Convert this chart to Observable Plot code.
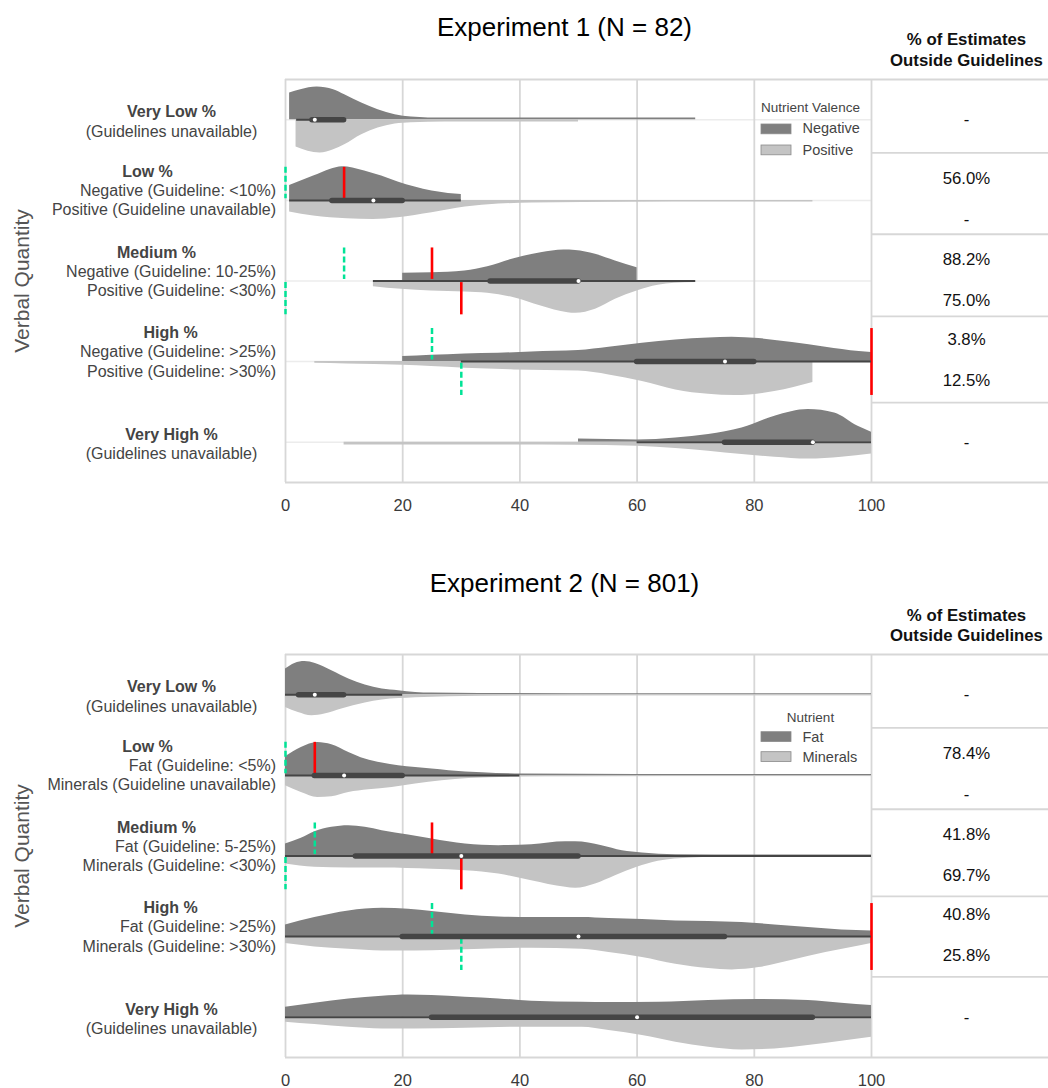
<!DOCTYPE html>
<html>
<head>
<meta charset="utf-8">
<script src="https://cdn.jsdelivr.net/npm/d3@7"></script>
<script src="https://cdn.jsdelivr.net/npm/@observablehq/plot@0.6"></script>
<style>
  body { margin: 0; background: #fff; }
  #chart svg { display: block; }
</style>
</head>
<body>
<div id="chart"></div>
<script>
// ---------------- DATA ----------------
const categories = ["Very Low %", "Low %", "Medium %", "High %", "Very High %"];
const xTicks = [0, 20, 40, 60, 80, 100];
const gridValues = [20, 40, 60, 80];
const tableHeader = ["% of Estimates", "Outside Guidelines"];
const yAxisTitle = "Verbal Quantity";

// Experiment 1
const exp1Title = "Experiment 1 (N = 82)";
const exp1LegendTitle = "Nutrient Valence";
const exp1Groups = ["Negative", "Positive"];
const exp1SubLabels = [
  ["(Guidelines unavailable)"],
  ["Negative (Guideline: <10%)", "Positive (Guideline unavailable)"],
  ["Negative (Guideline: 10-25%)", "Positive (Guideline: <30%)"],
  ["Negative (Guideline: >25%)", "Positive (Guideline: >30%)"],
  ["(Guidelines unavailable)"]
];
// density profiles: [estimate %, scaled density]
const exp1NegDensity = [
  [[0.7,26.7],[2.6,30],[5.4,32.7],[8.2,30],[10.1,25],[13,16.7],[15.8,10],[18.7,5],[21.5,2.7],[24.4,1.9],[30,1.7],[69.5,1.7],[70,1.7]],
  [[0.7,15],[4.8,24.3],[7.6,31],[9.7,33.7],[11.5,32.5],[13.5,29.3],[16.4,24.3],[19.2,18.3],[22.1,13.3],[25,9.3],[27.8,7],[30,6]],
  [[20,7.7],[24.9,8.3],[30.6,10],[34.5,14.3],[39,22.3],[43.6,28.3],[47.5,31],[49.5,30.5],[52.9,26.7],[56.3,20],[60,13.3]],
  [[20,5],[24.9,6.3],[30.6,7.7],[36.3,8.3],[42,9.7],[50,11],[55.2,14.3],[60.9,18.3],[66.6,21.7],[72.2,23.7],[76.2,24.3],[80.8,23],[86.5,19],[92.2,14.3],[97.9,10],[100,9]],
  [[50,3.3],[55,2.7],[60,2.3],[66.6,4.3],[72.2,7.7],[77.9,14.3],[83.5,26],[89.2,32.7],[93.7,29.3],[97.7,16],[100,10]]
];
const exp1PosDensity = [
  [[1.8,27.3],[5.9,33.3],[8.2,30],[10.1,25],[13,15],[15.8,8.3],[18.7,4.3],[21.5,3],[24.4,2.5],[30,2.3],[49.5,2.3],[50,2.3]],
  [[0.7,11.7],[4.8,15.7],[10.5,18.3],[15,19],[19.2,17.3],[25,12.3],[30.7,6.7],[36.4,3.7],[42,2.7],[50.6,2],[89.5,1.7],[90,1.7]],
  [[15,5.7],[19.8,8.3],[24.9,10],[30.6,11],[34.5,12.3],[39,16.7],[43.6,25],[48.2,31.7],[49.5,32.3],[52.9,28.3],[56.3,18.3],[60,10],[63.6,4.3],[66.4,2.3],[70,1.5]],
  [[5,1.7],[10.5,2.3],[20,3.7],[24.9,5],[30.6,6.7],[39,8.3],[50,9.5],[55.2,13.3],[60.9,20],[66.6,28.3],[72.2,32.7],[76.7,34],[83.5,30],[90,21]],
  [[10,2.7],[49.5,3],[60,4],[66.6,6.3],[72.2,9],[77.9,12.3],[83.5,15],[89.2,16.8],[94.9,15],[100,11.7]]
];
// [lower whisker, Q1, median, Q3, upper whisker]
const exp1Box = [
  [1.9, 4.6, 5, 10, 10],
  [0.7, 8, 15, 20, 30],
  [15, 35, 50, 50, 70],
  [30, 60, 75, 80, 100],
  [60, 75, 90, 90, 100]
];
// [row, guideline %, half, kind]
const exp1Guides = [
  [1, 0, "top", "lower"], [1, 10, "top", "upper"],
  [2, 10, "top", "lower"], [2, 25, "top", "upper"],
  [2, 0, "bottom", "lower"], [2, 30, "bottom", "upper"],
  [3, 25, "top", "lower"], [3, 30, "bottom", "lower"], [3, 100, "both", "upper"]
];
// [row, slot, text]
const exp1Outside = [
  [0, "single", "-"],
  [1, "top", "56.0%"], [1, "bottom", "-"],
  [2, "top", "88.2%"], [2, "bottom", "75.0%"],
  [3, "top", "3.8%"], [3, "bottom", "12.5%"],
  [4, "single", "-"]
];

// Experiment 2
const exp2Title = "Experiment 2 (N = 801)";
const exp2LegendTitle = "Nutrient";
const exp2Groups = ["Fat", "Minerals"];
const exp2SubLabels = [
  ["(Guidelines unavailable)"],
  ["Fat (Guideline: <5%)", "Minerals (Guideline unavailable)"],
  ["Fat (Guideline: 5-25%)", "Minerals (Guideline: <30%)"],
  ["Fat (Guideline: >25%)", "Minerals (Guideline: >30%)"],
  ["(Guidelines unavailable)"]
];
const exp2FatDensity = [
  [[0,25.7],[1.6,31.3],[3.3,33.3],[5.1,31.3],[7.9,24],[10.8,15.7],[13.6,9.7],[16.5,5.7],[19.3,4],[22.2,2.3],[25,1.7],[33,1.3],[60,1],[100,1]],
  [[0,18.7],[2.7,28],[5.5,33],[7.9,30.7],[10.8,23],[13.6,16.3],[16.5,12.3],[19.3,9.7],[22.2,8],[25,6.3],[27.9,4.7],[33.6,2.7],[40.4,1.3],[60,0.8],[100,0.8]],
  [[0,12],[2.7,17.7],[5,24.3],[7.9,28.7],[10.8,30.3],[13.6,28.7],[16.5,25.3],[21,21],[25,17],[30.7,12],[36.4,10.3],[42,11.3],[47.8,14.3],[49.5,14.3],[54,10.3],[57.5,5.3],[60.9,3],[66.6,1.3],[80,1],[100,1]],
  [[0,11.7],[5,19],[10.8,25.7],[16.5,28.3],[21,27.3],[25,25],[30.7,21.7],[36.4,19.7],[42,19],[50.6,19],[55.2,18],[60.9,17],[66.6,15.7],[72.2,15],[77.9,14],[83.5,11.7],[89.2,9],[94.9,6.7],[100,5.7]],
  [[0,10],[5,14],[10.8,18.3],[16.5,21],[21,22.3],[25,21.7],[30.7,20],[36.4,18.3],[42,16],[50.6,15],[55.2,14.7],[63.8,15],[72.2,16.7],[80.8,17.7],[89.2,16.7],[94.9,14],[100,11.7]]
];
const exp2MineralsDensity = [
  [[0,12.7],[2.2,17.7],[4.5,21],[6.7,19.3],[9.6,14.3],[13.6,8.3],[16.5,5.3],[22.2,3],[27.9,2],[39,1.3],[100,1]],
  [[0,10.3],[2.7,17],[5.5,22],[7.9,21.3],[10.8,17],[14.2,14.3],[18.2,12],[22.2,8.7],[26.7,5.3],[31.3,3],[39,1.7],[50,1.3],[100,1]],
  [[0,8],[5,11.3],[10.8,12],[16.5,12],[25,13.3],[30.7,14.7],[36.4,18],[42,24.7],[47.8,31.3],[49.5,32.3],[52.9,28],[56.3,19.7],[60,11.3],[63.6,5.3],[69.3,2],[75,1],[100,0.7]],
  [[0,7],[5,10.3],[10.8,12.7],[16.5,14.3],[22.2,14.3],[27.9,13.7],[33.6,12.7],[42,11.7],[50.6,12.7],[55.2,16],[60.9,21],[66.6,27.7],[72.2,32],[76.2,33.3],[80.8,31],[86.5,23.7],[92.2,16],[97.9,9.3],[100,7]],
  [[0,5],[5,7.3],[10.8,10],[16.5,11.7],[22.2,11.7],[30.7,11],[39,10],[50.6,10],[55.2,13.3],[60.9,18.3],[66.6,25],[72.2,30],[77.9,32.7],[83.5,31.7],[89.2,28.3],[94.9,24],[100,20]]
];
const exp2Box = [
  [0, 2.3, 5, 10, 20],
  [0, 5, 10, 20, 40],
  [0, 12, 30, 50, 100],
  [0, 20, 50, 75, 100],
  [0, 25, 60, 90, 100]
];
const exp2Guides = [
  [1, 0, "top", "lower"], [1, 5, "top", "upper"],
  [2, 5, "top", "lower"], [2, 25, "top", "upper"],
  [2, 0, "bottom", "lower"], [2, 30, "bottom", "upper"],
  [3, 25, "top", "lower"], [3, 30, "bottom", "lower"], [3, 100, "both", "upper"]
];
const exp2Outside = [
  [0, "single", "-"],
  [1, "top", "78.4%"], [1, "bottom", "-"],
  [2, "top", "41.8%"], [2, "bottom", "69.7%"],
  [3, "top", "40.8%"], [3, "bottom", "25.8%"],
  [4, "single", "-"]
];

// ---------------- LAYOUT / STYLE ----------------
const W = 1048, ML = 285, MR = 177;
const X_END = 100 * (W - ML) / (W - ML - MR);
const PX_PER_X = (W - ML - MR) / 100;
const DARK = "#7f7f7f", LIGHT = "#c4c4c4", BOX = "#454545";
const RED = "#ff0000", GREEN = "#00e396";
const GRID = "#d7d7d7", ROWGRID = "#ececec";
const FONT = "'Liberation Sans', Arial, Helvetica, sans-serif";
const BOLD_CX = [171, 147, 156, 170, 171];

const layout1 = {height: 540, mt: 79, mb: 58, titleY: 26.7, headY: [39, 60], tickDy: 23,
  tableLines: [0.41, 1.42, 2.44, 3.51], legTitleY: 106.7, swatchY: [124, 145], legLabelY: [128, 150]};
const layout2 = {height: 548, mt: 114, mb: 31, titleY: 43.4, headY: [75, 95], tickDy: 23,
  tableLines: [0.41, 1.42, 2.50, 3.50], legTitleY: 176.7, swatchY: [191.7, 211.7], legLabelY: [197, 217]};

function panel(L, title, legendTitle, groups, subLabels, topDens, botDens, box, guides, outside) {
  const rowPx = (L.height - L.mt - L.mb) / 5;
  const toRow = py => (py - L.mt) / rowPx - 0.5;
  const toX = px => (px - ML) / PX_PER_X;

  const areaTop = [], areaBot = [];
  topDens.forEach((pts, i) => pts.forEach(([v, d]) => areaTop.push({key: i, v, y1: i, y2: i - d / rowPx})));
  botDens.forEach((pts, i) => pts.forEach(([v, d]) => areaBot.push({key: i, v, y1: i, y2: i + d / rowPx})));
  const boxes = box.map(([lo, q1, med, q3, hi], row) => ({row, lo, q1, med, q3, hi}));
  const G = 0.41;
  const guideRows = guides.map(([row, v, side, kind]) => ({
    row, v, kind,
    y1: side === "bottom" ? row + 0.02 : row - G,
    y2: side === "top" ? row - 0.02 : row + G + 0.01
  }));
  const slotOff = {single: 0, top: -0.27, bottom: 0.24};
  const outRows = outside.map(([row, slot, text]) => ({y: row + slotOff[slot], text}));
  const legendRows = groups.map((g, i) => ({g, i}));

  const marks = [
    Plot.ruleY([0, 1, 2, 3, 4], {y: d => d, x1: 0, x2: 100, stroke: ROWGRID, strokeWidth: 1.5}),
    Plot.ruleX(gridValues, {x: d => d, y1: -0.5, y2: 4.5, stroke: GRID, strokeWidth: 1.8}),
    Plot.ruleY(L.tableLines, {y: d => d, x1: 100, x2: X_END, stroke: GRID, strokeWidth: 1.8}),
    // frame
    Plot.ruleX([0, 100], {x: d => d, y1: -0.5, y2: 4.5, stroke: GRID, strokeWidth: 1.8}),
    Plot.ruleY([-0.5, 4.5], {y: d => d, x1: 0, x2: X_END, stroke: GRID, strokeWidth: 1.8}),
    // split violins
    Plot.areaY(areaTop, {x: "v", y1: "y1", y2: "y2", z: "key", fill: DARK, curve: "monotone-x"}),
    Plot.areaY(areaBot, {x: "v", y1: "y1", y2: "y2", z: "key", fill: LIGHT, curve: "monotone-x"}),
    // guidelines
    Plot.ruleX(guideRows.filter(d => d.kind === "lower"), {x: "v", y1: "y1", y2: "y2", stroke: GREEN, strokeWidth: 2.5, strokeDasharray: "6,3"}),
    Plot.ruleX(guideRows.filter(d => d.kind === "upper"), {x: "v", y1: "y1", y2: "y2", stroke: RED, strokeWidth: 2.6}),
    // box summaries
    Plot.ruleY(boxes, {y: "row", x1: "lo", x2: "hi", stroke: BOX, strokeWidth: 2}),
    Plot.ruleY(boxes, {y: "row", x1: "q1", x2: "q3", stroke: BOX, strokeWidth: 5.5, strokeLinecap: "round"}),
    Plot.dot(boxes, {x: "med", y: "row", r: 2, fill: "white", stroke: null}),
    // x tick labels
    Plot.text(xTicks, {x: d => d, text: d => String(d), frameAnchor: "bottom", lineAnchor: "middle", dy: L.tickDy, fontSize: 16.5, fill: "#3a3a3a"}),
    // title
    Plot.text([title], {frameAnchor: "top-left", lineAnchor: "middle", dx: 564 - ML, dy: L.titleY - L.mt, fontSize: 26, fill: "#000", textAnchor: "middle"}),
    // table header
    Plot.text([tableHeader[0]], {frameAnchor: "top-left", lineAnchor: "middle", dx: 966 - ML, dy: L.headY[0] - L.mt, fontSize: 16.8, fontWeight: "bold", fill: "#111", textAnchor: "middle"}),
    Plot.text([tableHeader[1]], {frameAnchor: "top-left", lineAnchor: "middle", dx: 966 - ML, dy: L.headY[1] - L.mt, fontSize: 16.8, fontWeight: "bold", fill: "#111", textAnchor: "middle"}),
    // table values
    Plot.text(outRows, {y: "y", text: "text", frameAnchor: "right", lineAnchor: "middle", textAnchor: "middle", dx: 966 - (W - MR), fontSize: 16.8, fill: "#111"}),
    // y axis title
    Plot.text([yAxisTitle], {frameAnchor: "left", lineAnchor: "middle", textAnchor: "middle", dx: 22 - ML, rotate: -90, fontSize: 21, fill: "#555"}),
    // legend
    Plot.text([legendTitle], {frameAnchor: "top-left", lineAnchor: "middle", dx: 810 - ML, dy: L.legTitleY - L.mt, fontSize: 13.5, fill: "#444", textAnchor: "middle"}),
    Plot.rect(legendRows, {
      x1: () => toX(761), x2: () => toX(791),
      y1: d => toRow(L.swatchY[d.i]), y2: d => toRow(L.swatchY[d.i] + 9.8),
      fill: d => d.i === 0 ? DARK : LIGHT, stroke: "#8a8a8a", strokeWidth: 0.8
    }),
    Plot.text(legendRows, {
      frameAnchor: "left", lineAnchor: "middle", text: "g", dx: 802 - ML,
      fontSize: 14.5, fill: "#444", textAnchor: "start",
      y: d => toRow(L.legLabelY[d.i])
    })
  ];

  // row labels
  categories.forEach((cat, i) => {
    const subs = subLabels[i];
    const base = {y: "row", text: "t", frameAnchor: "left", lineAnchor: "middle", fontSize: 16, fill: "#444"};
    if (subs.length === 2) {
      marks.push(Plot.text([{row: i, t: cat}], {...base, dx: BOLD_CX[i] - ML, dy: -28.6, fontWeight: "bold", textAnchor: "middle"}));
      marks.push(Plot.text([{row: i, t: subs[0]}], {...base, dx: 275.5 - ML, dy: -9.3, textAnchor: "end"}));
      marks.push(Plot.text([{row: i, t: subs[1]}], {...base, dx: 275.5 - ML, dy: 9.9, textAnchor: "end"}));
    } else {
      marks.push(Plot.text([{row: i, t: cat}], {...base, dx: BOLD_CX[i] - ML, dy: -7.5, fontWeight: "bold", textAnchor: "middle"}));
      marks.push(Plot.text([{row: i, t: subs[0]}], {...base, dx: 171 - ML, dy: 11.7, textAnchor: "middle"}));
    }
  });

  return Plot.plot({
    width: W, height: L.height,
    marginLeft: ML, marginRight: MR, marginTop: L.mt, marginBottom: L.mb,
    x: {domain: [0, 100], axis: null},
    y: {domain: [-0.5, 4.5], reverse: true, axis: null},
    style: {fontFamily: FONT, background: "#fff", overflow: "visible"},
    marks
  });
}

const root = document.getElementById("chart");
root.appendChild(panel(layout1, exp1Title, exp1LegendTitle, exp1Groups, exp1SubLabels,
  exp1NegDensity, exp1PosDensity, exp1Box, exp1Guides, exp1Outside));
root.appendChild(panel(layout2, exp2Title, exp2LegendTitle, exp2Groups, exp2SubLabels,
  exp2FatDensity, exp2MineralsDensity, exp2Box, exp2Guides, exp2Outside));
</script>
</body>
</html>
